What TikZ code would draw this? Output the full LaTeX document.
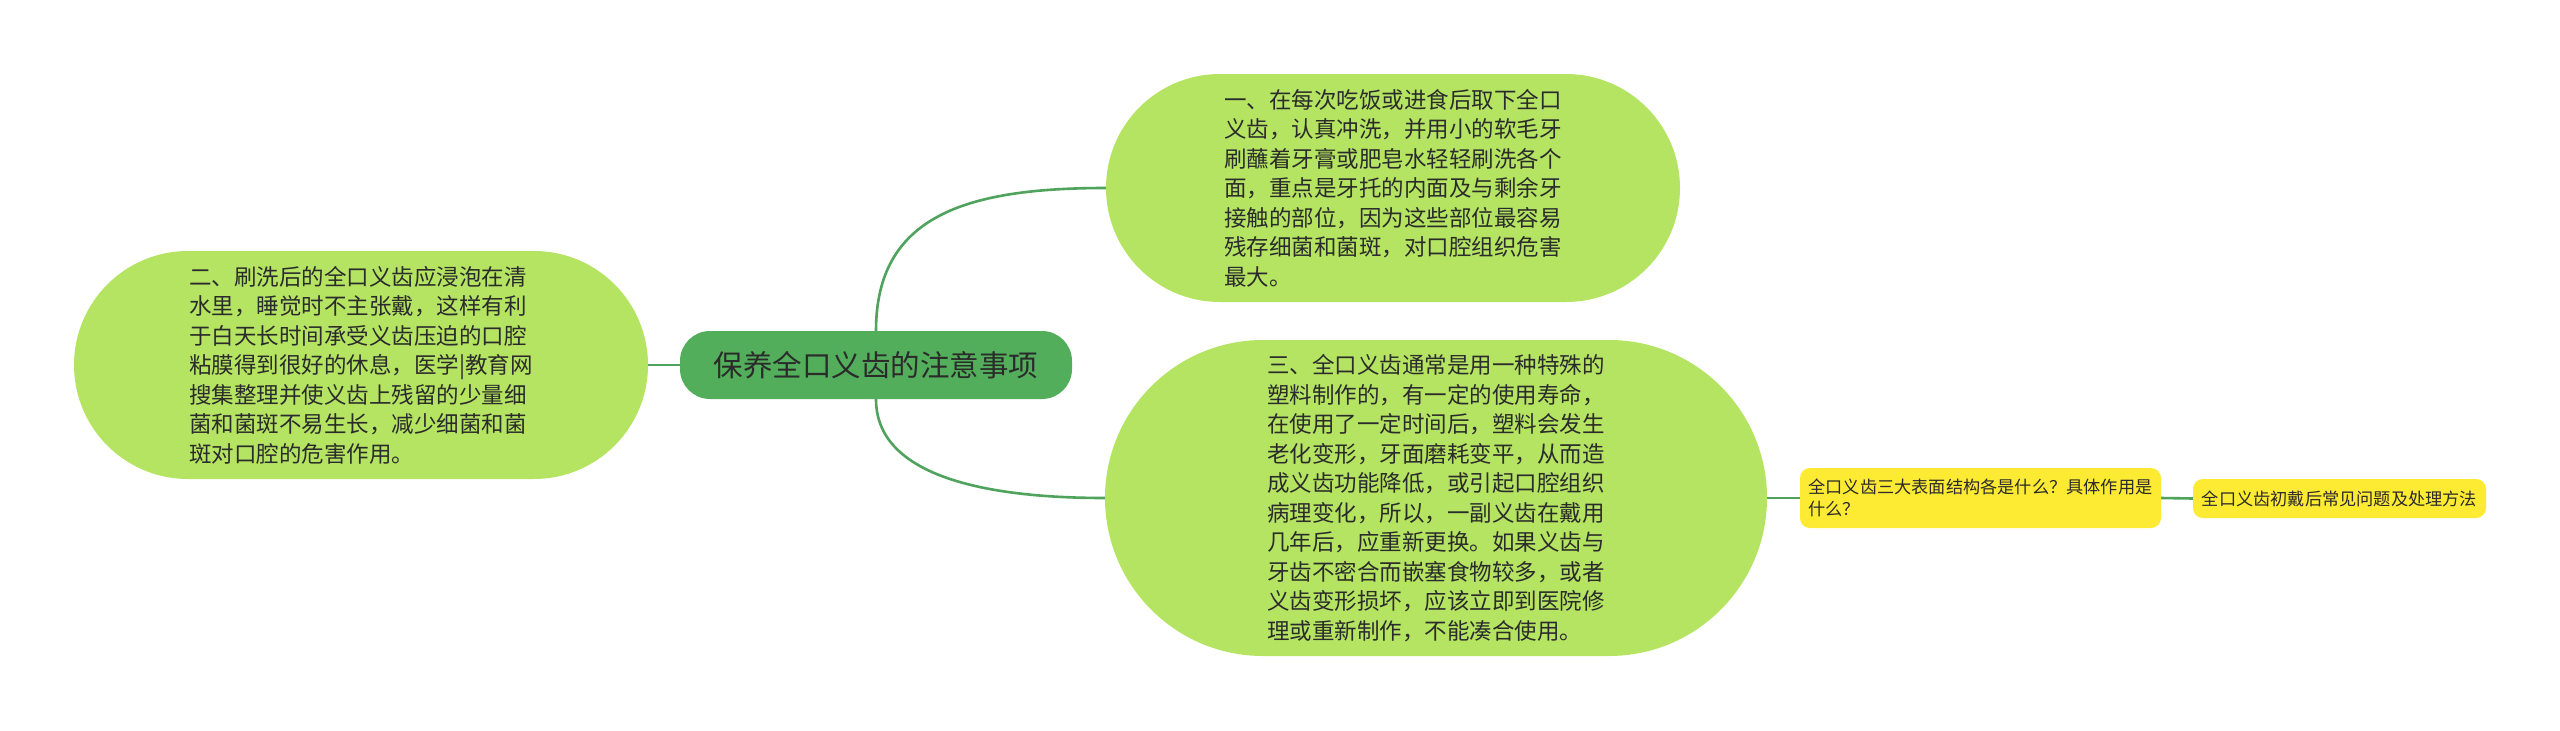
\documentclass[tikz,border=0pt]{standalone}
\usepackage{fontspec}
\newfontfamily\cjk{Noto Sans CJK SC}
\usetikzlibrary{backgrounds}
\definecolor{leaf}{HTML}{B5E462}
\definecolor{rootc}{HTML}{52AE5A}
\definecolor{yel}{HTML}{FDEA33}
\definecolor{conn}{HTML}{4FA35C}
\definecolor{txt}{HTML}{2B2B2B}
\begin{document}
\begin{tikzpicture}[x=1pt,y=-1pt,
  bigbox/.style={fill=leaf, inner sep=0pt, align=left, text=txt,
    font=\cjk\fontsize{22.5}{29.5}\selectfont},
  rootbox/.style={fill=rootc, rounded corners=30pt, minimum width=392pt, minimum height=68pt,
    inner sep=0pt, text=txt, font=\cjk\fontsize{29.5}{34}\selectfont},
  ybox/.style={fill=yel, rounded corners=10pt, inner sep=0pt, align=left, text=txt,
    font=\cjk\fontsize{17.2}{22}\selectfont},
  link/.style={draw=conn, line width=2.6pt}]
\useasboundingbox (0,0) rectangle (2560,731);

\node[rootbox] (C) at (876,365) {保养全口义齿的注意事项};

\node[bigbox, rounded corners=114pt, minimum width=574pt, minimum height=228pt] (L) at (361,365)
 {二、刷洗后的全口义齿应浸泡在清\\
  水里，睡觉时不主张戴，这样有利\\
  于白天长时间承受义齿压迫的口腔\\
  粘膜得到很好的休息，医学|教育网\\
  搜集整理并使义齿上残留的少量细\\
  菌和菌斑不易生长，减少细菌和菌\\
  斑对口腔的危害作用。};

\node[bigbox, rounded corners=114pt, minimum width=574pt, minimum height=228pt] (TR) at (1393,188)
 {一、在每次吃饭或进食后取下全口\\
  义齿，认真冲洗，并用小的软毛牙\\
  刷蘸着牙膏或肥皂水轻轻刷洗各个\\
  面，重点是牙托的内面及与剩余牙\\
  接触的部位，因为这些部位最容易\\
  残存细菌和菌斑，对口腔组织危害\\
  最大。};

\node[bigbox, rounded corners=158pt, minimum width=662pt, minimum height=316pt] (BR) at (1436,498)
 {三、全口义齿通常是用一种特殊的\\
  塑料制作的，有一定的使用寿命，\\
  在使用了一定时间后，塑料会发生\\
  老化变形，牙面磨耗变平，从而造\\
  成义齿功能降低，或引起口腔组织\\
  病理变化，所以，一副义齿在戴用\\
  几年后，应重新更换。如果义齿与\\
  牙齿不密合而嵌塞食物较多，或者\\
  义齿变形损坏，应该立即到医院修\\
  理或重新制作，不能凑合使用。};

\node[ybox, minimum width=361pt, minimum height=60pt] (Y1) at (1980.5,498)
 {全口义齿三大表面结构各是什么？具体作用是\\什么？};

\node[ybox, minimum width=293pt, minimum height=39pt] (Y2) at (2339.5,498.5)
 {全口义齿初戴后常见问题及处理方法};

\begin{pgfonlayer}{background}
\fill[white] (0,0) rectangle (2560,731);
\draw[link] (L.east) -- (C.west);
\draw[link] (C.north) .. controls +(0,-115) and +(-140,0) .. (TR.west);
\draw[link] (C.south) .. controls +(0,75) and +(-125,0) .. (BR.west);
\draw[link] (BR.east) -- (Y1.west);
\draw[link] (Y1.east) -- (Y2.west);
\end{pgfonlayer}
\end{tikzpicture}
\end{document}
